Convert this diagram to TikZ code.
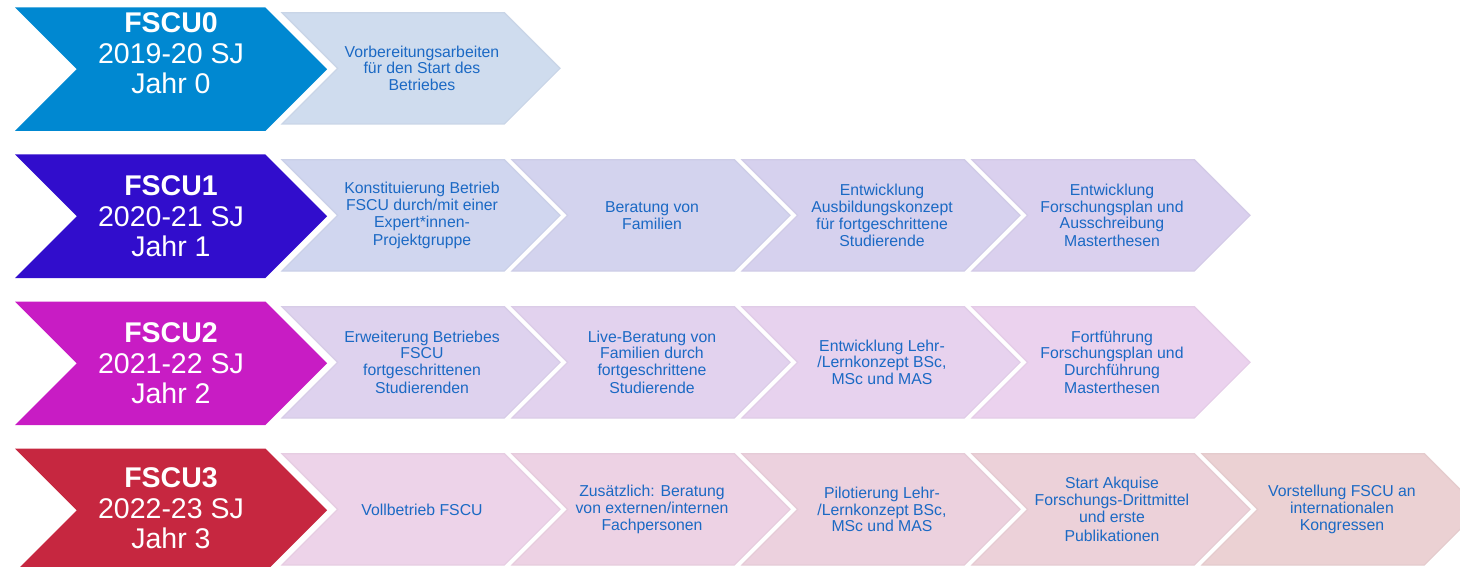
\documentclass[tikz,border=0pt]{standalone}
\usepackage{fontspec}
\setmainfont{Liberation Sans}
\definecolor{hzero}{HTML}{0088D1}
\definecolor{hone}{HTML}{310DCC}
\definecolor{htwo}{HTML}{C81CC4}
\definecolor{hthree}{HTML}{C62740}
\definecolor{txtblue}{HTML}{1B69C4}
\definecolor{cAa}{HTML}{CFDCEE}
\definecolor{cBa}{HTML}{D0D6EF}
\definecolor{cBb}{HTML}{D3D3EE}
\definecolor{cBc}{HTML}{D6D1EE}
\definecolor{cBd}{HTML}{DAD0EE}
\definecolor{cCa}{HTML}{DED2EE}
\definecolor{cCb}{HTML}{E2D2EE}
\definecolor{cCc}{HTML}{E7D2EE}
\definecolor{cCd}{HTML}{EBD2EE}
\definecolor{cDa}{HTML}{EDD3E9}
\definecolor{cDb}{HTML}{EDD2E4}
\definecolor{cDc}{HTML}{ECD1DE}
\definecolor{cDd}{HTML}{ECD1D9}
\definecolor{cDe}{HTML}{EBD1D3}
\newcommand\chevpath[5]{%
  \pgfmathsetmacro\chvR{#1+#3-#4/2}%
  \pgfmathsetmacro\chvT{#1+#3}%
  \pgfmathsetmacro\chvN{#1+#4/2}%
  \pgfmathsetmacro\chvB{#2+#4}%
  \pgfmathsetmacro\chvM{#2+#4/2}%
  \path[#5] (#1,#2) -- (\chvR,#2) -- (\chvT,\chvM) -- (\chvR,\chvB) -- (#1,\chvB) -- (\chvN,\chvM) -- cycle;}
\newcommand\stepchev[5]{%
  \pgfmathsetmacro\stX{282+230*#2}%
  \pgfmathsetmacro\stY{12.7+147*#1}%
  \chevpath{\stX}{\stY}{278}{111.3}{stepshape, fill=#3, draw=#3!97!black}%
  \pgfmathsetmacro\stCX{\stX+140}%
  \pgfmathsetmacro\stCY{\stY+55.65}%
  \node[steptext] (#4) at (\stCX,\stCY) {#5};}
\newcommand\headchev[5]{%
  \pgfmathsetmacro\hdY{7.5+147*#1}%
  \chevpath{15}{\hdY}{312}{123.5}{fill=#2}%
  \pgfmathsetmacro\hdCY{\hdY+61.75+#5}%
  \node[headtext] (#3) at (171,\hdCY) {#4};}
\begin{document}
\begin{tikzpicture}[x=1pt,y=-1pt,
  stepshape/.style={line width=1.2pt, line join=miter},
  steptext/.style={text=txtblue, align=center, inner sep=0pt,
    font=\fontsize{15.8}{16.8}\selectfont},
  headtext/.style={text=white, align=center, inner sep=0pt,
    font=\fontsize{28.5}{30.7}\selectfont}]
\useasboundingbox (0,0) rectangle (1460,567);
\clip (0,0) rectangle (1460,567);
% Row 0
\headchev{0}{hzero}{h0}{\textbf{FSCU0}\\2019-20 SJ\\Jahr 0}{-16}
\stepchev{0}{0}{cAa}{s00}{Vorbereitungsarbeiten\\für den Start des\\Betriebes}
% Row 1
\headchev{1}{hone}{h1}{\textbf{FSCU1}\\2020-21 SJ\\Jahr 1}{0}
\stepchev{1}{0}{cBa}{s10}{Konstituierung Betrieb\\FSCU durch/mit einer\\Expert*innen-\\[1.5pt]Projektgruppe}
\stepchev{1}{1}{cBb}{s11}{Beratung von\\Familien}
\stepchev{1}{2}{cBc}{s12}{Entwicklung\\Ausbildungskonzept\\für fortgeschrittene\\Studierende}
\stepchev{1}{3}{cBd}{s13}{Entwicklung\\Forschungsplan und\\Ausschreibung\\[1pt]Masterthesen}
% Row 2
\headchev{2}{htwo}{h2}{\textbf{FSCU2}\\2021-22 SJ\\Jahr 2}{0}
\stepchev{2}{0}{cCa}{s20}{Erweiterung Betriebes\\FSCU\\fortgeschrittenen\\[1.5pt]Studierenden}
\stepchev{2}{1}{cCb}{s21}{Live-Beratung von\\Familien durch\\fortgeschrittene\\[1.5pt]Studierende}
\stepchev{2}{2}{cCc}{s22}{Entwicklung Lehr-\\/Lernkonzept BSc,\\MSc und MAS}
\stepchev{2}{3}{cCd}{s23}{Fortführung\\Forschungsplan und\\Durchführung\\[1.5pt]Masterthesen}
% Row 3
\headchev{3}{hthree}{h3}{\textbf{FSCU3}\\2022-23 SJ\\Jahr 3}{-2}
\stepchev{3}{0}{cDa}{s30}{Vollbetrieb FSCU}
\stepchev{3}{1}{cDb}{s31}{Zusätzlich: Beratung\\von externen/internen\\Fachpersonen}
\stepchev{3}{2}{cDc}{s32}{Pilotierung Lehr-\\/Lernkonzept BSc,\\MSc und MAS}
\stepchev{3}{3}{cDd}{s33}{Start Akquise\\Forschungs-Drittmittel\\und erste\\[2pt]Publikationen}
\stepchev{3}{4}{cDe}{s34}{Vorstellung FSCU an\\internationalen\\Kongressen}
\end{tikzpicture}
\end{document}
